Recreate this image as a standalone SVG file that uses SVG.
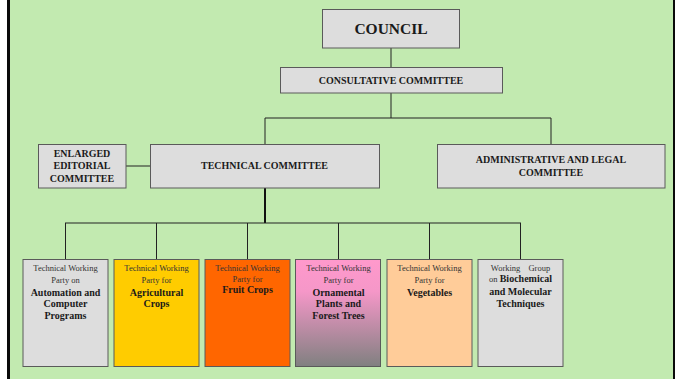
<svg xmlns="http://www.w3.org/2000/svg" width="675" height="379" viewBox="0 0 675 379">
<defs>
<linearGradient id="pinkgray" x1="0" y1="0" x2="0" y2="1">
<stop offset="0" stop-color="#FF99CC"/>
<stop offset="0.3" stop-color="#F597C8"/>
<stop offset="1" stop-color="#808080"/>
</linearGradient>
</defs>
<style>
.box{stroke:#5a5a5a;stroke-width:1}
.gray{fill:#DDDDDD}
text{font-family:'Liberation Serif','Times New Roman',Times,serif;text-anchor:middle}
.hd{font-weight:bold;fill:#1a1a1a}
.sm{font-size:8.5px;fill:#333}
.bd{font-size:10px;font-weight:bold;fill:#1a1a1a}
.ln{stroke:#222;stroke-width:1;fill:none}
</style>
<rect x="0" y="0" width="675" height="379" fill="#ffffff"/>
<rect x="10" y="0" width="663" height="379" fill="#C2EAB0"/>
<rect x="7" y="0" width="3" height="379" fill="#0a0a0a"/>
<rect x="673" y="0" width="2" height="379" fill="#0a0a0a"/>

<g id="connectors">
<line class="ln" x1="391" y1="48" x2="391" y2="67"/>
<line class="ln" x1="391" y1="93" x2="391" y2="118"/>
<line class="ln" x1="265" y1="118" x2="551" y2="118"/>
<line class="ln" x1="265" y1="118" x2="265" y2="144"/>
<line class="ln" x1="551" y1="118" x2="551" y2="144"/>
<line class="ln" x1="126" y1="166" x2="150" y2="166"/>
<line x1="265" y1="188" x2="265" y2="223" stroke="#111" stroke-width="2"/>
<line class="ln" x1="65" y1="223" x2="521" y2="223" stroke-width="1.2"/>
<line class="ln" x1="65.5" y1="223" x2="65.5" y2="259"/>
<line class="ln" x1="156.5" y1="223" x2="156.5" y2="259"/>
<line class="ln" x1="247.5" y1="223" x2="247.5" y2="259"/>
<line class="ln" x1="338.5" y1="223" x2="338.5" y2="259"/>
<line class="ln" x1="429.5" y1="223" x2="429.5" y2="259"/>
<line class="ln" x1="520.5" y1="223" x2="520.5" y2="259"/>
</g>

<g id="council" font-family="Liberation Serif, serif">
<rect class="box gray" x="322.5" y="9.5" width="137" height="38.5"/>
<text class="hd" x="391" y="34" font-size="15.5">COUNCIL</text>
</g>

<g id="consultative" font-family="Liberation Serif, serif">
<rect class="box gray" x="280.5" y="67.5" width="222" height="25.5"/>
<text class="hd" x="391" y="84" font-size="10">CONSULTATIVE COMMITTEE</text>
</g>

<g id="editorial" font-family="Liberation Serif, serif">
<rect class="box gray" x="38.5" y="144.5" width="87.5" height="43.5"/>
<text class="hd" x="82" y="156.5" font-size="10">ENLARGED</text>
<text class="hd" x="82" y="169" font-size="10">EDITORIAL</text>
<text class="hd" x="82" y="181.5" font-size="10">COMMITTEE</text>
</g>

<g id="technical" font-family="Liberation Serif, serif">
<rect class="box gray" x="150.5" y="144.5" width="229" height="43.5"/>
<text class="hd" x="264.5" y="169" font-size="10">TECHNICAL COMMITTEE</text>
</g>

<g id="admin" font-family="Liberation Serif, serif">
<rect class="box gray" x="437.5" y="144.5" width="227.5" height="43.5"/>
<text class="hd" x="551" y="163.3" font-size="10">ADMINISTRATIVE AND LEGAL</text>
<text class="hd" x="551" y="175.7" font-size="10">COMMITTEE</text>
</g>

<g id="twp-automation">
<rect class="box gray" x="23" y="259.5" width="85" height="107"/>
<text class="sm" x="65.5" y="270.7">Technical Working</text>
<text class="sm" x="65.5" y="282.7">Party on</text>
<text class="bd" x="65.5" y="295.7">Automation and</text>
<text class="bd" x="65.5" y="307.3">Computer</text>
<text class="bd" x="65.5" y="319.3">Programs</text>
</g>

<g id="twp-agricultural">
<rect class="box" fill="#FFCC00" x="114" y="259.5" width="85" height="107"/>
<text class="sm" x="156.5" y="270.7">Technical Working</text>
<text class="sm" x="156.5" y="282.7">Party for</text>
<text class="bd" x="156.5" y="295.7">Agricultural</text>
<text class="bd" x="156.5" y="307.3">Crops</text>
</g>

<g id="twp-fruit">
<rect class="box" fill="#FF6600" x="205" y="259.5" width="85" height="107"/>
<text class="sm" x="247.5" y="270.7">Technical Working</text>
<text class="sm" x="247.5" y="281.7">Party for</text>
<text class="bd" x="247.5" y="293.3">Fruit Crops</text>
</g>

<g id="twp-ornamental">
<rect class="box" fill="url(#pinkgray)" x="295.5" y="259.5" width="85" height="107"/>
<text class="sm" x="338.5" y="270.7">Technical Working</text>
<text class="sm" x="338.5" y="282.7">Party for</text>
<text class="bd" x="338.5" y="295.7">Ornamental</text>
<text class="bd" x="338.5" y="307.3">Plants and</text>
<text class="bd" x="338.5" y="319.3">Forest Trees</text>
</g>

<g id="twp-vegetables">
<rect class="box" fill="#FFCC99" x="387" y="259.5" width="85" height="107"/>
<text class="sm" x="429.5" y="270.7">Technical Working</text>
<text class="sm" x="429.5" y="282.7">Party for</text>
<text class="bd" x="429.5" y="295.7">Vegetables</text>
</g>

<g id="wg-biochemical">
<rect class="box gray" x="478" y="259.5" width="85" height="107"/>
<text class="sm" x="520.5" y="270.7" word-spacing="6">Working Group</text>
<text x="520.5" y="282.3"><tspan font-size="8.5" fill="#333">on </tspan><tspan font-size="10" font-weight="bold" fill="#1a1a1a">Biochemical</tspan></text>
<text class="bd" x="520.5" y="295.3">and Molecular</text>
<text class="bd" x="520.5" y="306.7">Techniques</text>
</g>
</svg>
